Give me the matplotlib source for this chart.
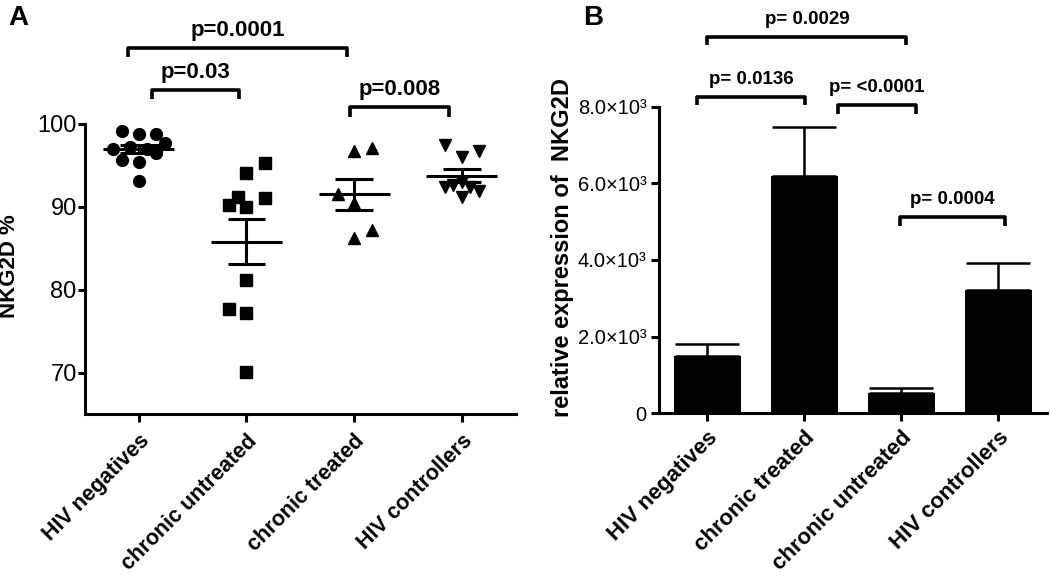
import numpy as np
import matplotlib
matplotlib.use("Agg")
import matplotlib.pyplot as plt

plt.rcParams['font.family'] = ['Liberation Sans', 'DejaVu Sans']

# panel A: NKG2D % per subject
groups_a = ["HIV negatives", "chronic untreated", "chronic treated", "HIV controllers"]
hiv_neg = [99.2, 98.8, 98.8, 97.7, 97.0, 97.2, 97.0, 96.8, 95.7, 95.4, 96.5, 93.1]
chronic_untreated = [95.3, 94.1, 91.2, 90.2, 90.0, 91.0, 81.2, 77.7, 77.2, 70.1]
chronic_treated = [96.7, 97.1, 91.5, 90.5, 86.2, 87.2]
hiv_controllers = [97.5, 96.0, 96.7, 92.4, 92.6, 92.4, 91.9, 91.2, 93.0]

# horizontal spread of points inside each column
jit_a = [
    [-0.16, 0, 0.16, 0.24, -0.24, -0.08, 0.08, 0.16, -0.16, 0, 0.16, 0],
    [0.17, 0, -0.08, -0.16, 0, 0.17, 0, -0.16, 0, 0],
    [0, 0.17, -0.15, 0, 0, 0.17],
    [-0.16, 0, 0.16, -0.16, -0.08, 0.08, 0.16, 0, 0],
]
markers_a = ["o", "s", "^", "v"]

yticks_a = [70, 80, 90, 100]

# p values panel A: (x1, x2, y, text)
pvals_a = [(-0.1, 1.93, 109.2, "p=0.0001"),
           (0.12, 0.93, 104.1, "p=0.03"),
           (1.96, 2.88, 102.0, "p=0.008")]

# panel B: relative expression (mean, sem)
groups_b = ["HIV negatives", "chronic treated", "chronic untreated", "HIV controllers"]
expr_mean = [1490, 6200, 520, 3220]
expr_sem = [310, 1290, 130, 710]
yticks_b = [0, 2000, 4000, 6000, 8000]
ytick_labels_b = ["0", "2.0×10³", "4.0×10³", "6.0×10³", "8.0×10³"]

pvals_b = [(0.0, 2.05, 9840, "p= 0.0029"),
           (-0.11, 1.01, 8270, "p= 0.0136"),
           (1.35, 2.15, 8060, "p= <0.0001"),
           (1.98, 3.07, 5130, "p= 0.0004")]

fig = plt.figure(figsize=(10.5, 5.79), dpi=100)
axA = fig.add_axes([0.081, 0.285, 0.410, 0.501])
axB = fig.add_axes([0.6276, 0.2867, 0.3695, 0.5285])

lw = 2.2


def style_axes(ax):
    for s in ["top", "right"]:
        ax.spines[s].set_visible(False)
    for s in ["left", "bottom"]:
        ax.spines[s].set_linewidth(lw)
    ax.tick_params(width=lw, length=6)


def bracket(ax, x1, x2, y, h, txt, ty, fs):
    ax.plot([x1, x1, x2, x2], [y - h, y, y, y - h], color="black", lw=2.6,
            clip_on=False, solid_capstyle="butt")
    ax.text((x1 + x2) / 2, ty, txt, ha="center", va="center",
            fontsize=fs, fontweight="bold", clip_on=False)


# ---- panel A
style_axes(axA)
data_a = [hiv_neg, chronic_untreated, chronic_treated, hiv_controllers]
for i, vals in enumerate(data_a):
    vals = np.array(vals)
    xs = i + np.array(jit_a[i])
    axA.plot(xs, vals, linestyle="none", marker=markers_a[i], color="black",
             markersize=8.5, clip_on=False, zorder=3)
    m = vals.mean()
    sem = vals.std(ddof=1) / np.sqrt(len(vals))
    axA.hlines(m, i - 0.33, i + 0.33, color="black", lw=2.2, zorder=4)
    axA.hlines([m - sem, m + sem], i - 0.175, i + 0.175, color="black", lw=2.2, zorder=4)
    axA.vlines(i, m - sem, m + sem, color="black", lw=2.2, zorder=4)

axA.set_xlim(-0.5, 3.5)
axA.set_ylim(65, 100)
axA.spines["left"].set_bounds(65, 100)
axA.set_yticks(yticks_a)
axA.tick_params(axis="y", labelsize=17, pad=1, length=5)
axA.set_xticks(range(4))
axA.set_xticklabels(groups_a, rotation=45, ha="right", rotation_mode="anchor",
                    fontsize=15.5, fontweight="bold")
axA.tick_params(axis="x", length=6, pad=6)
axA.set_ylabel("NKG2D %", fontsize=16, fontweight="bold")
axA.yaxis.set_label_coords(-0.152, 0.51)

for x1, x2, y, txt in pvals_a:
    bracket(axA, x1, x2, y, 1.15, txt, y + 2.1, 16)

# ---- panel B
style_axes(axB)
x = np.arange(len(groups_b))
axB.bar(x, expr_mean, width=0.7, color="black", zorder=2)
axB.errorbar(x, expr_mean, yerr=[np.zeros(len(x)), expr_sem], fmt="none",
             ecolor="black", elinewidth=1.8, capsize=23, capthick=1.8, zorder=1)
axB.set_xlim(-0.5, 3.5)
axB.set_ylim(0, 8000)
axB.set_yticks(yticks_b)
axB.set_yticklabels(ytick_labels_b)
axB.tick_params(axis="y", labelsize=14.5, pad=3)
axB.set_xticks(x)
axB.set_xticklabels(groups_b, rotation=45, ha="right", rotation_mode="anchor",
                    fontsize=16, fontweight="bold")
axB.tick_params(axis="x", length=6, pad=4)
axB.set_ylabel("relative expression of  NKG2D", fontsize=17, fontweight="bold")
axB.yaxis.set_label_coords(-0.218, 0.54)

for x1, x2, y, txt in pvals_b:
    bracket(axB, x1, x2, y, 230, txt, y + 450, 13.5)

fig.text(8 / 1050, 1 - 25 / 579, "A", fontsize=20, fontweight="bold", va="baseline")
fig.text(583 / 1050, 1 - 25 / 579, "B", fontsize=20, fontweight="bold", va="baseline")

fig.savefig("out.png", dpi=100)
